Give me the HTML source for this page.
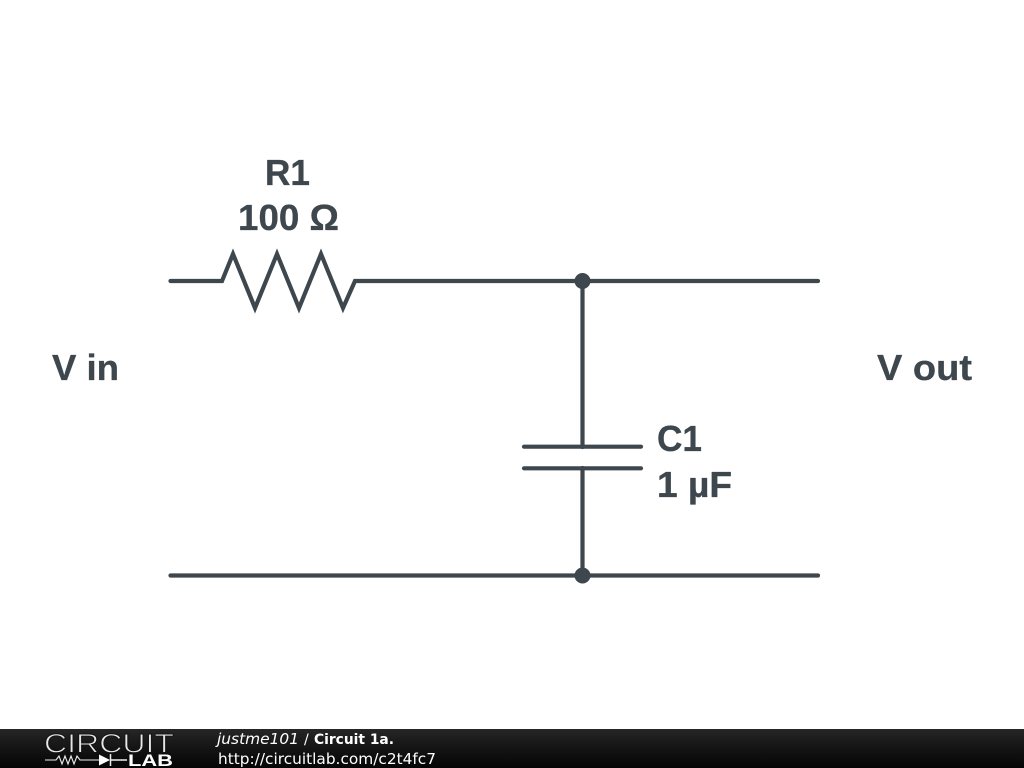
<!DOCTYPE html>
<html><head><meta charset="utf-8"><style>
html,body{margin:0;padding:0;background:#fff;width:1024px;height:768px;overflow:hidden}
svg{display:block}
</style></head><body>
<svg width="1024" height="768" viewBox="0 0 1024 768" xmlns="http://www.w3.org/2000/svg">
<defs><linearGradient id="g" x1="0" y1="0" x2="0" y2="1"><stop offset="0" stop-color="#262626"/><stop offset="0.5" stop-color="#141414"/><stop offset="1" stop-color="#050505"/></linearGradient></defs>
<rect width="1024" height="768" fill="#fff"/>
<g fill="none" stroke="#3d474d" stroke-width="4.2" stroke-linecap="round" stroke-linejoin="miter">
<path d="M170.500 281H222L233 254L255 308L277 254L299 308L321 254L343 308L355 281H818"/>
<path d="M170.500 575.500H818"/>
<path d="M582.500 281V447M582.500 468V575"/>
<path d="M524 446.700H641M524 468.300H641"/>
</g>
<circle cx="582.500" cy="281" r="8" fill="#3d474d"/>
<circle cx="582.500" cy="575.500" r="8" fill="#3d474d"/>
<g fill="#3d474d" stroke="#3d474d" stroke-width="0.300" font-family="'Liberation Sans',sans-serif" font-weight="700" font-size="36">
<text x="265" y="185" textLength="45" lengthAdjust="spacingAndGlyphs">R1</text>
<text x="238" y="230" textLength="101" lengthAdjust="spacingAndGlyphs">100 Ω</text>
<text x="657" y="451" textLength="45" lengthAdjust="spacingAndGlyphs">C1</text>
<text x="657" y="497" textLength="75" lengthAdjust="spacingAndGlyphs">1 µF</text>
<text x="52" y="380" textLength="67" lengthAdjust="spacingAndGlyphs">V in</text>
<text x="877" y="380" textLength="95" lengthAdjust="spacingAndGlyphs">V out</text>
</g>
<rect y="729" width="1024" height="39" fill="url(#g)"/>
<text x="44" y="752.500" font-family="'Liberation Sans',sans-serif" font-size="27" fill="#e8e8e8" stroke="#141414" stroke-width="0.900" textLength="130" lengthAdjust="spacingAndGlyphs">CIRCUIT</text>
<path d="M45 760H56L59 756L62 764L65 756L68 764L71 756L74 764L77 756L80 760H99" fill="none" stroke="#eee" stroke-width="1.100"/>
<path d="M99 754.500L110 760L99 765.500Z" fill="#fff"/>
<path d="M110.500 754V766M110.500 760H127" stroke="#eee" stroke-width="1.500" fill="none"/>
<text x="128" y="766" font-family="'Liberation Sans',sans-serif" font-weight="700" font-size="17" fill="#fff" textLength="45" lengthAdjust="spacingAndGlyphs">LAB</text>
<g font-family="'DejaVu Sans',sans-serif" font-size="15.400" fill="#fff">
<text x="217" y="744" font-style="italic" textLength="82" lengthAdjust="spacingAndGlyphs">justme101</text>
<text x="304" y="744" font-size="14">/</text>
<text x="314" y="744" font-weight="700" font-size="14" textLength="80" lengthAdjust="spacingAndGlyphs">Circuit 1a.</text>
<text x="218" y="764" textLength="218" lengthAdjust="spacingAndGlyphs">http://circuitlab.com/c2t4fc7</text>
</g>
</svg>
</body></html>
